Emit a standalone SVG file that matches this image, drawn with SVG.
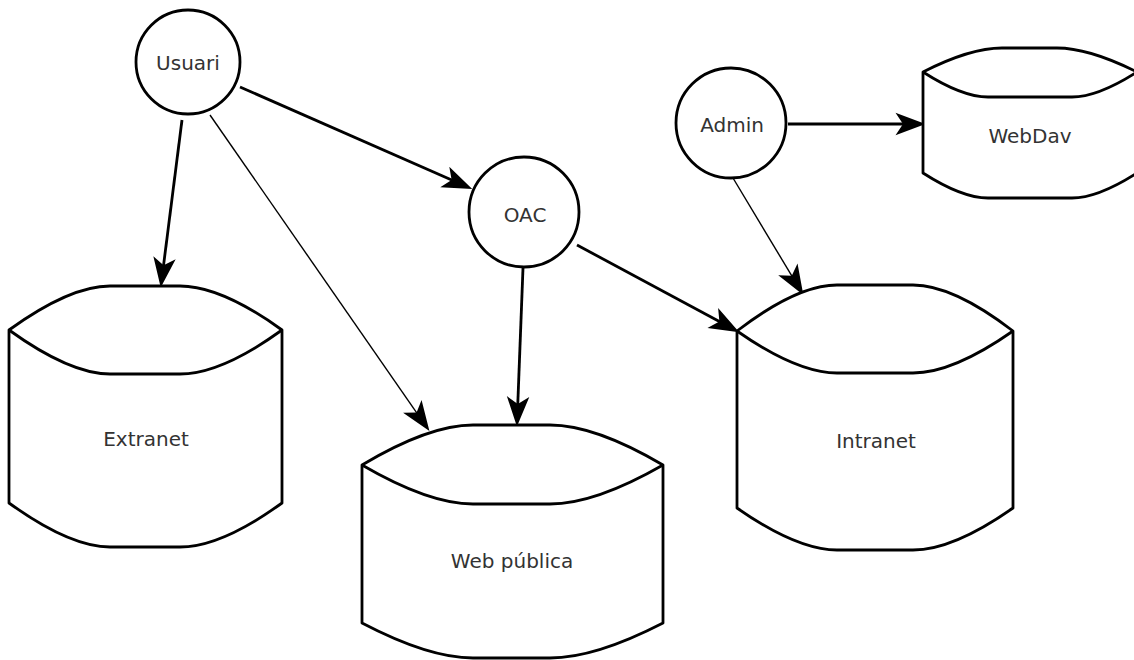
<svg xmlns="http://www.w3.org/2000/svg" width="1134" height="660" viewBox="0 0 1134 660">
<style>
.shape{fill:#fff;stroke:#000;stroke-width:2.8;stroke-linejoin:round}
.inner{fill:none;stroke:#000;stroke-width:2.8}
.lbl{font-family:"DejaVu Sans",sans-serif;font-size:20px;fill:#333;text-anchor:middle}
.thick{stroke:#000;stroke-width:2.8;fill:none;marker-end:url(#arr)}
.thin{stroke:#000;stroke-width:1.4;fill:none;marker-end:url(#arr)}
</style>
<defs>
<marker id="arr" markerUnits="userSpaceOnUse" markerWidth="40" markerHeight="40" viewBox="-20 -12 32 24" refX="0" refY="0" orient="auto" overflow="visible">
<path d="M10,0 L-14,-9 L-8,0 L-14,9 Z" fill="#000"/>
</marker>
</defs>
<rect width="1134" height="660" fill="#fff"/>
<g id="connectors">
<line class="thick" x1="182" y1="120" x2="162.3" y2="275.1"/>
<line class="thin" x1="210" y1="115" x2="422.3" y2="420.8"/>
<line class="thick" x1="240" y1="87" x2="460.8" y2="184"/>
<line class="thick" x1="523" y1="268" x2="517.4" y2="414"/>
<line class="thick" x1="577" y1="245" x2="728.2" y2="326.3"/>
<line class="thin" x1="733" y1="178" x2="796.9" y2="284.4"/>
<line class="thick" x1="788" y1="124" x2="913" y2="124"/>
</g>
<g id="usuari">
<circle class="shape" cx="188" cy="62" r="52"/>
<text class="lbl" x="188" y="70">Usuari</text>
</g>
<g id="oac">
<circle class="shape" cx="524" cy="212" r="55"/>
<text class="lbl" x="525" y="222">OAC</text>
</g>
<g id="admin">
<circle class="shape" cx="731" cy="123" r="55"/>
<text class="lbl" x="732" y="132">Admin</text>
</g>
<g id="extranet">
<path class="shape" d="M9,330 Q70,286 110,286 L180,286 Q221,286 282,330 L282,503 Q221,547 180,547 L110,547 Q70,547 9,503 Z"/>
<path class="inner" d="M9,330 Q70,374 110,374 L180,374 Q221,374 282,330"/>
<text class="lbl" x="146" y="446">Extranet</text>
</g>
<g id="webpublica">
<path class="shape" d="M362,465 Q429,425 473,425 L550,425 Q595,425 663,465 L663,623 Q595,658 550,658 L473,658 Q429,658 362,623 Z"/>
<path class="inner" d="M362,465 Q429,504 473,504 L550,504 Q595,504 663,465"/>
<text class="lbl" x="512" y="568">Web pública</text>
</g>
<g id="intranet">
<path class="shape" d="M737,331 Q797,285 837,285 L913,285 Q953,285 1013,331 L1013,508 Q953,550 913,550 L837,550 Q797,550 737,508 Z"/>
<path class="inner" d="M737,331 Q797,373 837,373 L913,373 Q953,373 1013,331"/>
<text class="lbl" x="876" y="448">Intranet</text>
</g>
<g id="webdav">
<path class="shape" d="M923,72 Q970,48 1002,48 L1057,48 Q1089,48 1137,72 L1137,173 Q1098,198 1072,198 L988,198 Q962,198 923,173 Z"/>
<path class="inner" d="M923,72 Q962,97 988,97 L1072,97 Q1098,97 1137,72"/>
<text class="lbl" x="1030" y="143">WebDav</text>
</g>
</svg>
